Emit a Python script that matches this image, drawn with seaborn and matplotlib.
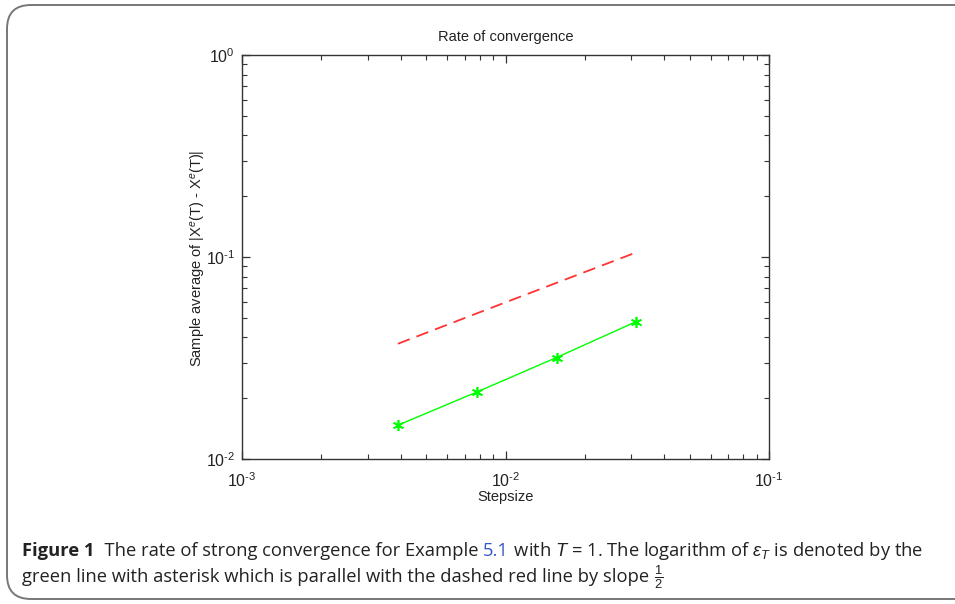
import numpy as np
import pandas as pd
import seaborn as sns
import matplotlib
matplotlib.use("Agg")
import matplotlib.pyplot as plt
from matplotlib.patches import FancyBboxPatch
from matplotlib.ticker import LogLocator, NullFormatter, FuncFormatter

stepsize = [0.00390625, 0.0078125, 0.015625, 0.03125]
error = [0.0147, 0.0215, 0.0318, 0.0478]
ref_line = [0.0372, 0.0527, 0.0745, 0.1052]

df = pd.DataFrame({"dt": stepsize, "err": error, "ref": ref_line})

sns.set_style("white")
plt.rcParams['font.family'] = ['Liberation Sans', 'DejaVu Sans']
plt.rcParams['mathtext.fontset'] = 'custom'
plt.rcParams['mathtext.rm'] = 'Liberation Sans'
plt.rcParams['mathtext.it'] = 'Liberation Sans:italic'
plt.rcParams['axes.unicode_minus'] = False

fig = plt.figure(figsize=(9.55, 6.04), dpi=100)
W, H = 955, 604
ax = fig.add_axes([242 / W, 1 - 459 / H, (769 - 242) / W, (459 - 55) / H])

sns.lineplot(data=df, x="dt", y="err", ax=ax, color="#00ff00", lw=1.0,
             marker=(6, 2, 0), markersize=8, markeredgewidth=1.2,
             markeredgecolor="#00ff00")
sns.lineplot(data=df, x="dt", y="ref", ax=ax, color="#ff3333", lw=1.3,
             linestyle="--")
ax.lines[-1].set_dashes((7, 4))

ax.set_xscale("log")
ax.set_yscale("log")
ax.set_xlim(1e-3, 1e-1)
ax.set_ylim(1e-2, 1e0)


def pow_label(v, pos):
    e = int(round(np.log10(v)))
    s = str(e).replace("-", "\u2010")
    return "10$^{" + s + "}$"


ax.xaxis.set_major_locator(LogLocator(base=10, numticks=10))
ax.yaxis.set_major_locator(LogLocator(base=10, numticks=10))
ax.xaxis.set_major_formatter(FuncFormatter(pow_label))
ax.yaxis.set_major_formatter(FuncFormatter(pow_label))
ax.xaxis.set_minor_locator(LogLocator(base=10, subs=np.arange(2, 10), numticks=20))
ax.yaxis.set_minor_locator(LogLocator(base=10, subs=np.arange(2, 10), numticks=20))
ax.xaxis.set_minor_formatter(NullFormatter())
ax.yaxis.set_minor_formatter(NullFormatter())
ax.tick_params(which="both", direction="in", top=True, right=True,
               bottom=True, left=True,
               colors="#333333", labelcolor="#222222", labelsize=11.5)
ax.tick_params(which="major", length=6, width=0.9)
ax.tick_params(which="minor", length=3.5, width=0.8)
ax.tick_params(axis="x", which="major", pad=9)
ax.tick_params(axis="y", which="major", pad=5)
for s in ax.spines.values():
    s.set_color("#333333")
    s.set_linewidth(1.0)

ax.set_title("Rate of convergence", fontsize=10.5, color="#222222", pad=10)
ax.set_xlabel("Stepsize", fontsize=10.5, color="#222222")
ax.xaxis.set_label_coords(0.5, -(497 - 459) / 404)
ax.xaxis.label.set_va("center")
ax.set_ylabel("Sample average of |X$^e$(T) - X$^e$(T)|", fontsize=10.5,
              color="#222222")
ax.yaxis.set_label_coords(-(242 - 199) / 527, (459 - 258) / 404)
ax.yaxis.label.set_va("center")

# rounded frame
box = FancyBboxPatch((7 / W, 1 - 599 / H), 1.05, (599 - 5) / H,
                     boxstyle="round,pad=0,rounding_size=0.025",
                     transform=fig.transFigure, fill=False,
                     edgecolor="#777777", linewidth=1.4, clip_on=False,
                     mutation_aspect=W / H)
fig.patches.append(box)

cap_font = ['Open Sans', 'DejaVu Sans']
fs = 13.2
y1 = 1 - 556 / H
t = fig.text(22 / W, y1, "Figure 1", fontsize=fs, fontweight="bold",
             family=cap_font, va="baseline", color="#222222")
fig.canvas.draw()
r = fig.canvas.get_renderer()

def place(prev, s, color="#222222", gap=0, **kw):
    bb = prev.get_window_extent(renderer=r)
    x = (bb.x1 + gap) / W
    tt = fig.text(x, prev.get_position()[1], s, fontsize=fs, family=cap_font,
                  va="baseline", color=color, **kw)
    fig.canvas.draw()
    return tt

t2 = place(t, "  The rate of strong convergence for Example ", gap=0)
t3 = place(t2, "5.1", color="#3355cc")
t4 = place(t3, " with $T$ = 1. The logarithm of $\\epsilon_T$ is denoted by the")
y2 = 1 - 582 / H
t5 = fig.text(22 / W, y2, "green line with asterisk which is parallel with the dashed red line by slope ",
              fontsize=fs, family=cap_font, va="baseline", color="#222222")
fig.canvas.draw()
t6 = place(t5, "$\\frac{1}{2}$")

fig.savefig("out.png", dpi=100)
